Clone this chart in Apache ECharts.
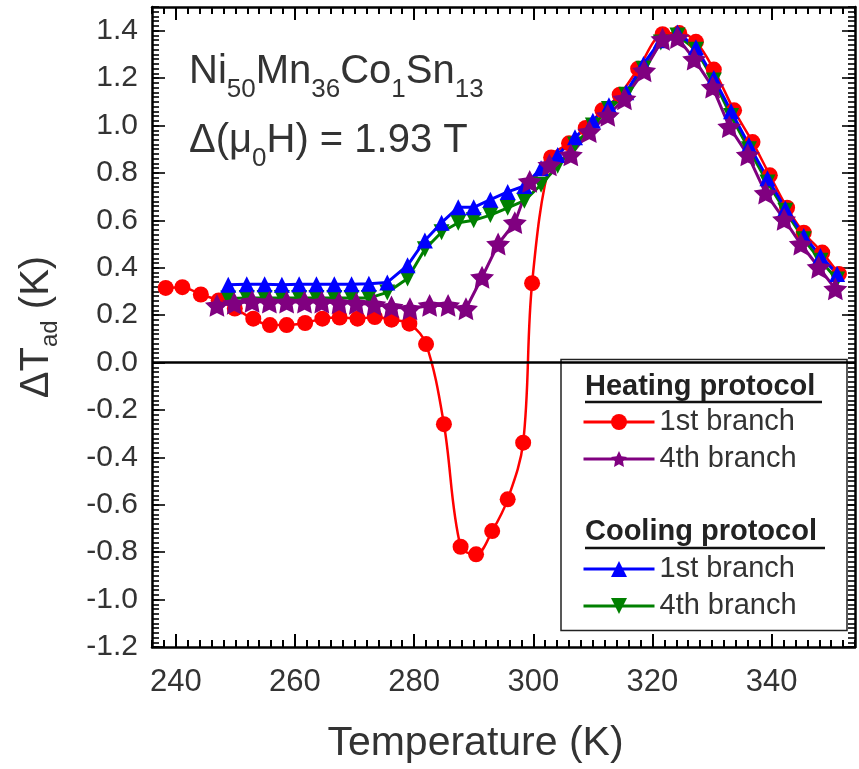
<!DOCTYPE html>
<html>
<head>
<meta charset="utf-8">
<script src="https://cdn.jsdelivr.net/npm/echarts@6/dist/echarts.min.js"></script>
<style>
  html, body { margin: 0; padding: 0; background: #fff; }
  #chart { width: 859px; height: 769px; }
</style>
</head>
<body>
<div id="chart"></div>
<script>
// Tick labels
const xTicks = [240, 260, 280, 300, 320, 340];
const yTicks = [-1.2, -1.0, -0.8, -0.6, -0.4, -0.2, 0.0, 0.2, 0.4, 0.6, 0.8, 1.0, 1.2, 1.4];

// Heating protocol, 1st branch (temperature K, ΔT_ad K)
const heat1T = [238.3, 241.1, 244.2, 247.2, 249.9, 253.0, 255.8, 258.6, 261.7, 264.6, 267.5, 270.5, 273.4, 276.2, 279.2, 282.0, 285.0, 287.8, 290.4, 293.1, 295.7, 298.3, 299.8, 303.0, 306.0, 308.8, 311.6, 314.5, 317.6, 321.7, 324.5, 327.3, 330.3, 333.7, 336.8, 339.7, 342.6, 345.4, 348.5, 351.3];
const heat1V = [0.315, 0.318, 0.287, 0.262, 0.228, 0.185, 0.158, 0.158, 0.167, 0.185, 0.19, 0.185, 0.192, 0.181, 0.164, 0.078, -0.26, -0.777, -0.809, -0.711, -0.577, -0.338, 0.335, 0.865, 0.925, 0.99, 1.064, 1.13, 1.24, 1.385, 1.39, 1.353, 1.236, 1.064, 0.93, 0.79, 0.653, 0.548, 0.464, 0.374];

// Heating protocol, 4th branch
const heat4T = [246.9, 249.8, 252.8, 255.7, 258.6, 261.6, 264.5, 267.4, 270.3, 273.3, 276.2, 279.3, 282.6, 285.7, 288.7, 291.4, 294.1, 296.9, 299.4, 302.7, 306.3, 309.4, 312.5, 315.3, 318.6, 321.7, 324.2, 327.0, 330.1, 332.9, 336.0, 339.0, 342.1, 344.9, 347.9, 350.7];
const heat4V = [0.241, 0.25, 0.258, 0.255, 0.255, 0.255, 0.255, 0.252, 0.25, 0.245, 0.235, 0.227, 0.241, 0.241, 0.227, 0.36, 0.5, 0.59, 0.764, 0.834, 0.876, 0.974, 1.043, 1.113, 1.231, 1.364, 1.371, 1.28, 1.162, 0.995, 0.876, 0.715, 0.604, 0.5, 0.402, 0.311];

// Cooling protocol, 1st and 4th branch (shared temperatures)
const coolT = [248.8, 251.9, 254.9, 257.8, 260.7, 263.6, 266.6, 269.5, 272.4, 275.5, 278.9, 281.8, 284.6, 287.4, 290.0, 292.8, 295.7, 298.5, 301.3, 304.1, 307.0, 310.0, 312.7, 315.6, 318.5, 321.4, 324.2, 327.3, 330.3, 333.2, 336.2, 339.3, 342.3, 345.4, 348.2, 351.0];
const cool1V = [0.328, 0.33, 0.33, 0.328, 0.33, 0.33, 0.33, 0.33, 0.332, 0.338, 0.41, 0.515, 0.59, 0.655, 0.655, 0.687, 0.72, 0.745, 0.82, 0.876, 0.95, 1.02, 1.085, 1.14, 1.26, 1.36, 1.392, 1.33, 1.2, 1.06, 0.918, 0.778, 0.65, 0.534, 0.45, 0.374];
const cool4V = [0.27, 0.272, 0.272, 0.272, 0.272, 0.272, 0.272, 0.272, 0.272, 0.296, 0.355, 0.478, 0.55, 0.59, 0.6, 0.622, 0.653, 0.683, 0.75, 0.83, 0.92, 1.0, 1.07, 1.13, 1.24, 1.35, 1.38, 1.32, 1.19, 1.04, 0.9, 0.76, 0.64, 0.52, 0.43, 0.35];

const FONT = '"Liberation Sans", Arial, Helvetica, sans-serif';
const TEXT = '#333';

const X_MIN = 236, X_MAX = 354;
const Y_MIN = -1.2, Y_MAX = 1.5;

// minor tick positions: every 2 K and every 0.02 K
const xMinor = [];
for (let v = X_MIN; v <= X_MAX; v += 2) xMinor.push(v);
const yMinor = [];
for (let i = 0; i <= 135; i++) yMinor.push(+(Y_MIN + i * 0.02).toFixed(2));

const zip = (a, b) => a.map((t, i) => [t, b[i]]);

// five-pointed star, fairly fat body
const STAR = 'path://M0,-10L2.94,-4.05L9.51,-3.09L4.76,1.55L5.88,8.09L0,5L-5.88,8.09L-4.76,1.55L-9.51,-3.09L-2.94,-4.05Z';

function xAxisDef(pos, major, withLabels) {
  return {
    type: 'value', min: X_MIN, max: X_MAX, position: pos,
    axisLine: { show: major, onZero: false, lineStyle: { color: '#000', width: 2.5 } },
    axisTick: { show: true, inside: true, length: major ? 13 : 7, customValues: major ? xTicks : xMinor,
                lineStyle: { color: '#000', width: 2 } },
    axisLabel: { show: withLabels, customValues: xTicks, fontSize: 31, color: TEXT, fontFamily: FONT, margin: 20 },
    splitLine: { show: false }
  };
}
function yAxisDef(pos, major, withLabels) {
  return {
    type: 'value', min: Y_MIN, max: Y_MAX, position: pos,
    axisLine: { show: major, onZero: false, lineStyle: { color: '#000', width: 2.5 } },
    axisTick: { show: true, inside: true, length: major ? 13 : 7, customValues: major ? yTicks : yMinor,
                lineStyle: { color: '#000', width: 1.6 } },
    axisLabel: { show: withLabels, customValues: yTicks, fontSize: 30, color: TEXT, fontFamily: FONT, margin: 14,
                 formatter: v => v.toFixed(1) },
    splitLine: { show: false }
  };
}

const xMain = xAxisDef('bottom', true, true);
xMain.name = 'Temperature (K)';
xMain.nameLocation = 'middle';
xMain.nameGap = 76;
xMain.nameTextStyle = { fontSize: 41, color: TEXT, fontFamily: FONT, padding: [0, 56, 0, 0] };

const yMain = yAxisDef('left', true, true);
yMain.name = '{d|ΔT}{s|ad}{d| (K)}';
yMain.nameLocation = 'middle';
yMain.nameGap = 90;
yMain.nameTextStyle = {
  color: TEXT, fontFamily: FONT,
  rich: {
    d: { fontSize: 40, lineHeight: 50, color: TEXT, fontFamily: FONT },
    s: { fontSize: 24, lineHeight: 20, verticalAlign: 'bottom', color: TEXT, fontFamily: FONT }
  }
};

const lineSeries = (name, T, V, color, symbol, size, width, extra) => Object.assign({
  name, type: 'line', data: zip(T, V), xAxisIndex: 0, yAxisIndex: 0,
  symbol, symbolSize: size, symbolKeepAspect: true,
  itemStyle: { color }, lineStyle: { color, width },
  emphasis: { disabled: true }, animation: false
}, extra || {});

const richTitle = {
  m: { fontSize: 40, fontWeight: 'normal', lineHeight: 62, color: TEXT, fontFamily: FONT },
  s: { fontSize: 26, fontWeight: 'normal', lineHeight: 20, verticalAlign: 'bottom', color: TEXT, fontFamily: FONT }
};

const legendBase = {
  orient: 'vertical', left: 582, padding: 0, z: 10,
  itemWidth: 71, itemHeight: 20, itemGap: 7,
  lineStyle: { width: 3 },
  formatter: n => n.replace(/^(Heating|Cooling) /, ''),
  textStyle: { fontSize: 29, lineHeight: 30, color: TEXT, fontFamily: FONT },
  selectedMode: false
};

const chart = echarts.init(document.getElementById('chart'), null, { renderer: 'canvas' });

chart.setOption({
  backgroundColor: '#fff',
  animation: false,
  grid: { left: 152, right: 4, top: 7, bottom: 116, containLabel: false },
  title: [
    {
      text: '{m|Ni}{s|50}{m|Mn}{s|36}{m|Co}{s|1}{m|Sn}{s|13}',
      left: 189, top: 41, padding: 0,
      textStyle: { fontWeight: 'normal', rich: richTitle }
    },
    {
      text: '{m|Δ(μ}{s|0}{m|H) = 1.93 T}',
      left: 189, top: 110, padding: 0,
      textStyle: { fontWeight: 'normal', rich: richTitle }
    }
  ],
  legend: [
    Object.assign({ data: ['Heating 1st branch', 'Heating 4th branch'], top: 407 }, legendBase),
    Object.assign({ data: ['Cooling 1st branch', 'Cooling 4th branch'], top: 554 }, legendBase)
  ],
  graphic: [
    { type: 'rect', z: 5, shape: { x: 561, y: 359.5, width: 286, height: 271 },
      style: { fill: '#fff', stroke: '#222', lineWidth: 1.5 } },
    { type: 'text', z: 11, x: 585, y: 387,
      style: { text: 'Heating protocol', font: 'bold 29px ' + FONT, fill: '#222', verticalAlign: 'middle' } },
    { type: 'line', z: 11, shape: { x1: 585, y1: 402, x2: 822, y2: 402 }, style: { stroke: '#111', lineWidth: 2.5 } },
    { type: 'text', z: 11, x: 585, y: 532,
      style: { text: 'Cooling protocol', font: 'bold 29px ' + FONT, fill: '#222', verticalAlign: 'middle' } },
    { type: 'line', z: 11, shape: { x1: 585, y1: 548, x2: 825, y2: 548 }, style: { stroke: '#111', lineWidth: 2.5 } }
  ],
  xAxis: [xMain, xAxisDef('bottom', false, false), xAxisDef('top', true, false), xAxisDef('top', false, false)],
  yAxis: [yMain, yAxisDef('left', false, false), yAxisDef('right', true, false), yAxisDef('right', false, false)],
  series: [
    lineSeries('Heating 1st branch', heat1T, heat1V, '#ff0000', 'circle', 16, 2.5, {
      smooth: 0.35,
      markLine: {
        silent: true, symbol: 'none', animation: false,
        label: { show: false },
        lineStyle: { color: '#000', width: 2.5, type: 'solid' },
        data: [{ yAxis: 0 }]
      }
    }),
    lineSeries('Cooling 4th branch', coolT, cool4V, '#008000', 'triangle', 16, 3, { symbolRotate: 180 }),
    lineSeries('Cooling 1st branch', coolT, cool1V, '#0000ff', 'triangle', 16, 3),
    lineSeries('Heating 4th branch', heat4T, heat4V, '#800080', STAR, 24, 3)
  ]
});
</script>
</body>
</html>
